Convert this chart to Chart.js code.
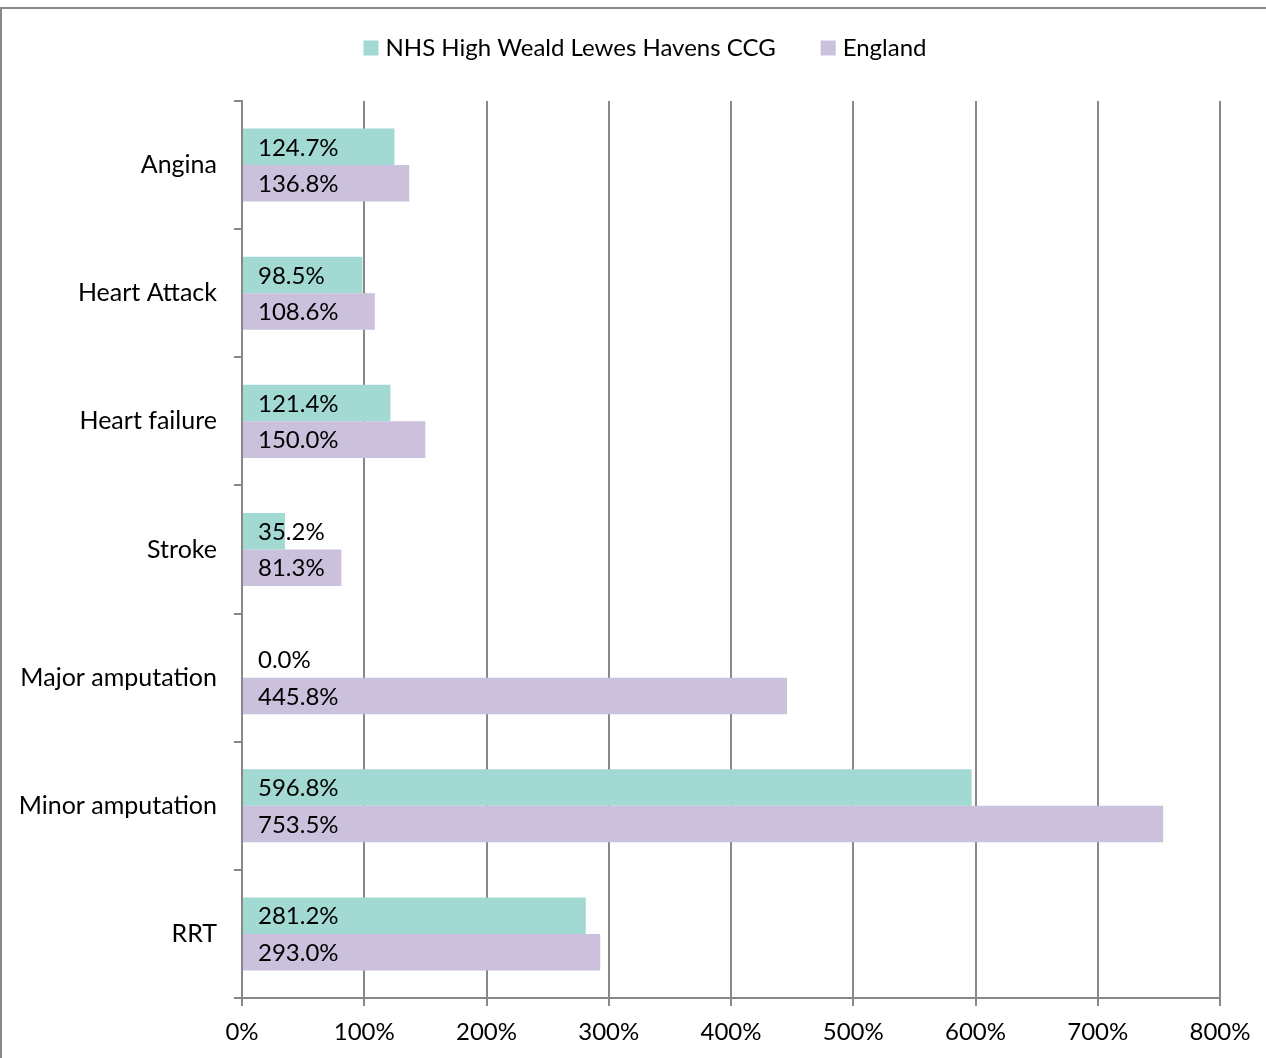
<!DOCTYPE html>
<html>
<head>
<meta charset="utf-8">
<script src="https://cdn.jsdelivr.net/npm/chart.js@4"></script>
<style>
    html, body { margin: 0; padding: 0; background: #fff; }
    #wrap { position: relative; width: 1266px; height: 1058px; }
    #frame { position: absolute; left: 0; top: 7px; width: 1266px; height: 1051px; border-top: 2px solid #888; border-left: 2px solid #888; box-sizing: border-box; }
    canvas { position: absolute; left: 0; top: 0; }
</style>
</head>
<body>
<div id="wrap">
    <div id="frame"></div>
    <canvas id="myChart" width="1266" height="1058"></canvas>
</div>
<script>
'use strict';

const categories = ['Angina', 'Heart Attack', 'Heart failure', 'Stroke', 'Major amputation', 'Minor amputation', 'RRT'];
const ccgValues = [124.7, 98.5, 121.4, 35.2, 0.0, 596.8, 281.2];
const englandValues = [136.8, 108.6, 150.0, 81.3, 445.8, 753.5, 293.0];
const seriesNames = ['NHS High Weald Lewes Havens CCG', 'England'];
const seriesColours = ['#A2D9D3', '#CCC1DD'];

const FONT = 'Lato, "Open Sans", sans-serif';
const GRID = '#888888';

/* labels inside the bars, left aligned from zero */
const barLabels = {
    id: 'barLabels',
    afterDatasetsDraw(chart) {
        const ctx = chart.ctx;
        const x0 = chart.scales.x.getPixelForValue(0);
        ctx.save();
        ctx.font = '24px ' + FONT;
        ctx.fillStyle = '#000';
        ctx.textAlign = 'left';
        ctx.textBaseline = 'middle';
        chart.data.datasets.forEach(function(ds, i) {
            chart.getDatasetMeta(i).data.forEach(function(bar, j) {
                ctx.fillText(ds.data[j].toFixed(1) + '%', x0 + 16, bar.y + 1);
            });
        });
        ctx.restore();
    }
};

/* legend drawn by hand so spacing matches */
const topLegend = {
    id: 'topLegend',
    afterDraw(chart) {
        const ctx = chart.ctx;
        ctx.save();
        ctx.font = '24px ' + FONT;
        ctx.textBaseline = 'middle';
        const box = 15, gapText = 7, gapItem = 45;
        let total = 0;
        seriesNames.forEach(function(n, i) {
            total += box + gapText + ctx.measureText(n).width;
            if (i < seriesNames.length - 1) total += gapItem;
        });
        let x = 645 - total / 2;
        const y = 48;
        seriesNames.forEach(function(n, i) {
            ctx.fillStyle = seriesColours[i];
            ctx.fillRect(x, y - box / 2, box, box);
            x += box + gapText;
            ctx.fillStyle = '#000';
            ctx.fillText(n, x, y);
            x += ctx.measureText(n).width + gapItem;
        });
        ctx.restore();
    }
};

const ctx = document.getElementById('myChart').getContext('2d');

const chart = new Chart(ctx, {
    type: 'bar',
    data: {
        labels: categories,
        datasets: [{
            label: seriesNames[0],
            backgroundColor: seriesColours[0],
            data: ccgValues,
        },
        {
            label: seriesNames[1],
            backgroundColor: seriesColours[1],
            data: englandValues,
        }]
    },
    options: {
        indexAxis: 'y',
        responsive: false,
        animation: false,
        devicePixelRatio: 1,
        categoryPercentage: 0.57,
        barPercentage: 1.0,
        layout: { padding: { top: 101, right: 46, left: 0, bottom: 0 } },
        plugins: {
            legend: { display: false },
            tooltip: { enabled: false }
        },
        scales: {
            x: {
                min: 0,
                max: 800,
                ticks: {
                    stepSize: 100,
                    color: '#000',
                    font: { family: FONT, size: 24 },
                    padding: 12,
                    callback: function(v) { return v + '%'; }
                },
                grid: { color: GRID, lineWidth: 2, tickLength: 8 },
                border: { color: GRID, width: 2 },
                afterFit: function(scale) { scale.height = 60; }
            },
            y: {
                ticks: {
                    color: '#000',
                    font: { family: FONT, size: 25 },
                    padding: 17
                },
                grid: { drawOnChartArea: false, color: GRID, lineWidth: 2, tickLength: 8, offset: true },
                border: { color: GRID, width: 2 },
                afterFit: function(scale) { scale.width = 242; }
            }
        }
    },
    plugins: [barLabels, topLegend]
});
</script>
</body>
</html>
